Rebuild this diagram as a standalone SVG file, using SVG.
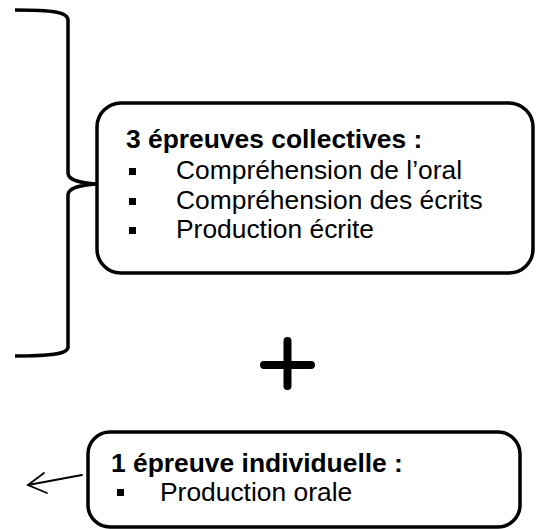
<svg xmlns="http://www.w3.org/2000/svg" width="538" height="529" viewBox="0 0 538 529">
<style>
.box{fill:#fff;stroke:#000;stroke-width:3.5}
.t{font-family:"Liberation Sans",Arial,sans-serif;font-size:26.4px;fill:#000}
.b{font-weight:bold}
.line{fill:none;stroke:#000}
</style>
<rect width="538" height="529" fill="#fff"/>
<g id="connectors">
<path id="brace" class="line" stroke-width="3.5" d="M15,10 C52,10 68,12 68,20 L68,173 C68,181 82,183 97,184 C82,185 68,187 68,195 L68,347 C68,354 52,356 15,356"/>
<g id="arrow" class="line" stroke-width="1.8" stroke-linecap="round">
<path d="M82,475 L28,485"/>
<path d="M44,473 L28,485 L47,493"/>
</g>
</g>
<g id="node-collectives">
<rect class="box" x="97" y="103" width="436" height="170" rx="24"/>
<text class="t b" x="126" y="148">3 épreuves collectives :</text>
<rect x="129" y="168" width="7" height="7"/>
<rect x="129" y="198" width="7" height="7"/>
<rect x="129" y="227" width="7" height="7"/>
<text class="t" x="176" y="179">Compréhension de l’oral</text>
<text class="t" x="176" y="209">Compréhension des écrits</text>
<text class="t" x="176" y="238">Production écrite</text>
</g>
<g id="plus">
<path class="line" stroke-width="8" stroke-linecap="round" d="M287.5,341 L287.5,386 M264,365 L311,365"/>
</g>
<g id="node-individuelle">
<rect class="box" x="88" y="432" width="432" height="95" rx="22"/>
<text class="t b" x="111" y="472">1 épreuve individuelle :</text>
<rect x="117" y="489" width="7" height="7"/>
<text class="t" x="160" y="501">Production orale</text>
</g>
</svg>
